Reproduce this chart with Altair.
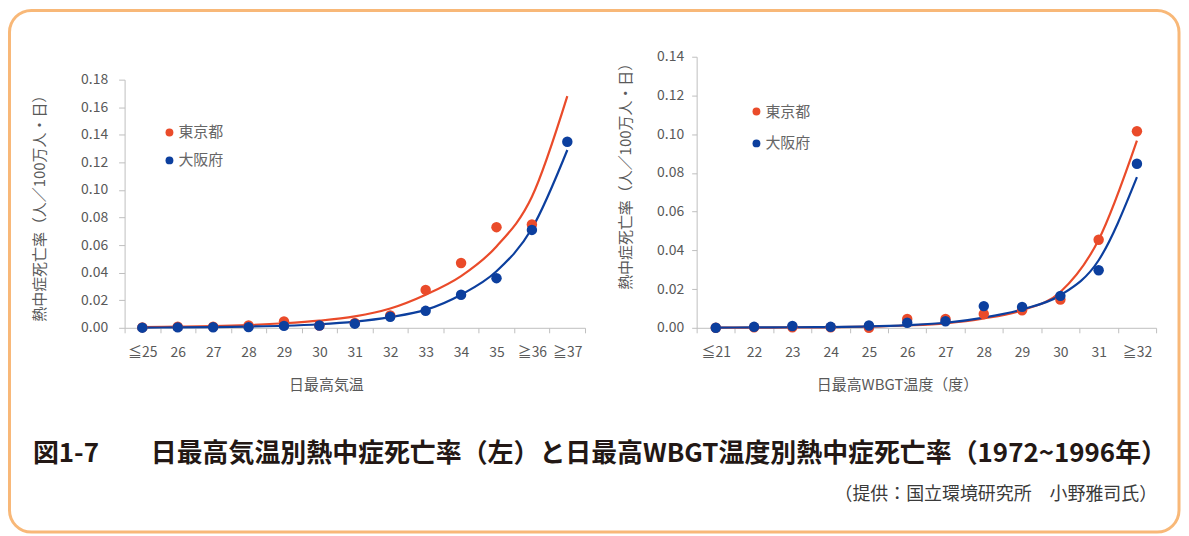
import altair as alt
import pandas as pd

# ---------------- data ----------------
series = ["東京都", "大阪府"]
colors = ["#ea4b2a", "#0c3f9e"]

left_cats = ["≦25", "26", "27", "28", "29", "30", "31", "32", "33", "34", "35", "≧36", "≧37"]
left_tokyo_pts = [0.0003, 0.0008, 0.0008, 0.0017, 0.0046, 0.0017, 0.0035, 0.0090, 0.0275, 0.0470, 0.0730, 0.0750]
left_osaka_pts = [0.0001, 0.0003, 0.0004, 0.0005, 0.0014, 0.0017, 0.0030, 0.0080, 0.0123, 0.0240, 0.0360, 0.0710, 0.1350]
left_tokyo_fit = [0.0005, 0.0008, 0.0012, 0.0020, 0.0033, 0.0052, 0.0083, 0.0140, 0.0240, 0.0375, 0.0590, 0.0950, 0.1680]
left_osaka_fit = [0.0002, 0.0003, 0.0005, 0.0009, 0.0015, 0.0026, 0.0045, 0.0078, 0.0130, 0.0240, 0.0410, 0.0720, 0.1290]
left_ticks = [0.00, 0.02, 0.04, 0.06, 0.08, 0.10, 0.12, 0.14, 0.16, 0.18]

right_cats = ["≦21", "22", "23", "24", "25", "26", "27", "28", "29", "30", "31", "≧32"]
right_tokyo_pts = [0.0000, 0.0003, 0.0003, 0.0003, 0.0000, 0.0046, 0.0046, 0.0071, 0.0091, 0.0146, 0.0455, 0.1015]
right_osaka_pts = [0.0000, 0.0005, 0.0009, 0.0005, 0.0012, 0.0026, 0.0034, 0.0112, 0.0108, 0.0165, 0.0297, 0.0847]
right_tokyo_fit = [0.0001, 0.0001, 0.0002, 0.0003, 0.0006, 0.0012, 0.0023, 0.0048, 0.0091, 0.0185, 0.0455, 0.0967]
right_osaka_fit = [0.0001, 0.0002, 0.0003, 0.0004, 0.0007, 0.0014, 0.0026, 0.0053, 0.0095, 0.0168, 0.0349, 0.0778]
right_ticks = [0.00, 0.02, 0.04, 0.06, 0.08, 0.10, 0.12, 0.14]

left_xtitle = "日最高気温"
right_xtitle = "日最高WBGT温度（度）"
ytitle = "熱中症死亡率（人／100万人・日）"
fig_title = "図1-7　　日最高気温別熱中症死亡率（左）と日最高WBGT温度別熱中症死亡率（1972~1996年）"
source_text = "（提供：国立環境研究所　小野雅司氏）"

FONT = "Noto Sans CJK JP"
AXIS_GREY = "#bfbfbf"
LABEL_GREY = "#595959"

one = pd.DataFrame({"k": [0]})


def long_rows(cats, values, name):
    return [{"cat": c, "series": name, "value": v, "idx": i}
            for i, (c, v) in enumerate(zip(cats, values))]


def legend_layers(lx, ly, row_step):
    layers = []
    for i, (name, col) in enumerate(zip(series, colors)):
        yy = ly + i * row_step
        layers.append(alt.Chart(one).mark_circle(size=62, opacity=1).encode(
            x=alt.value(lx), y=alt.value(yy), color=alt.value(col)))
        layers.append(alt.Chart(one).mark_text(align="left", baseline="middle", fontSize=15,
                                               font=FONT, color="#666666").encode(
            x=alt.value(lx + 9), y=alt.value(yy), text=alt.value(name)))
    return layers


def panel(cats, tokyo_pts, osaka_pts, tokyo_fit, osaka_fit, ticks, ymax, yrange,
          width, height, xtitle, xtitle_x, ytitle_x, ytitle_y, ytick, ylabpad,
          legend_x, legend_y, legend_step, extra_layers=()):
    pts = pd.DataFrame(long_rows(cats, tokyo_pts, series[0]) + long_rows(cats, osaka_pts, series[1]))
    fit = pd.DataFrame(long_rows(cats, tokyo_fit, series[0]) + long_rows(cats, osaka_fit, series[1]))

    xenc = alt.X("cat:N", sort=cats,
                 scale=alt.Scale(type="band", domain=cats, paddingInner=0, paddingOuter=0),
                 axis=alt.Axis(title=xtitle, tickBand="extent", labelAngle=0, labelFontSize=14,
                               labelColor=LABEL_GREY, labelFont=FONT, labelBaseline="middle",
                               labelPadding=20, tickSize=5, tickColor=AXIS_GREY,
                               domainColor=AXIS_GREY, titleFontSize=15, titleColor=LABEL_GREY,
                               titleFontWeight="normal", titleFont=FONT, titleX=xtitle_x, titleY=57,
                               titleAlign="center", titleBaseline="middle", grid=False))
    yenc = alt.Y("value:Q",
                 scale=alt.Scale(domain=[0, ymax], range=yrange, nice=False, zero=True),
                 axis=alt.Axis(values=ticks, format=".2f", title=ytitle, labelFontSize=14,
                               labelColor=LABEL_GREY, labelFont=FONT, labelPadding=ylabpad,
                               tickSize=ytick, tickColor=AXIS_GREY, domainColor=AXIS_GREY,
                               titleFontSize=15, titleColor=LABEL_GREY, titleFontWeight="normal",
                               titleFont=FONT, titleX=ytitle_x, titleY=ytitle_y, titleAngle=270,
                               titleAlign="center", titleBaseline="middle", grid=False))
    cscale = alt.Scale(domain=series, range=colors)

    lines = alt.Chart(fit).mark_line(interpolate="monotone", strokeWidth=2.2).encode(
        x=xenc, y=yenc,
        color=alt.Color("series:N", scale=cscale, legend=None),
        order=alt.Order("idx:Q"),
    )
    points = alt.Chart(pts).mark_circle(size=110, opacity=1).encode(
        x=xenc, y=yenc,
        color=alt.Color("series:N", scale=cscale, legend=None),
    )
    layers = list(extra_layers) + [lines, points] + legend_layers(legend_x, legend_y, legend_step)
    return alt.layer(*layers).properties(width=width, height=height)


border = alt.Chart(one).mark_rect(fillOpacity=0, stroke="#f8b878", strokeWidth=3, cornerRadius=22).encode(
    x=alt.value(-115.5), x2=alt.value(1058), y=alt.value(-46.5), y2=alt.value(477)
)
title_mark = alt.Chart(one).mark_text(align="left", baseline="middle", fontSize=26, fontWeight="bold",
                                      font=FONT, color="#231815").encode(
    x=alt.value(-92), y=alt.value(399), text=alt.value(fig_title)
)
source_mark = alt.Chart(one).mark_text(align="right", baseline="middle", fontSize=18,
                                       font=FONT, color="#3a3a3a").encode(
    x=alt.value(1036), y=alt.value(440), text=alt.value(source_text)
)

left = panel(left_cats, left_tokyo_pts, left_osaka_pts, left_tokyo_fit, left_osaka_fit,
             left_ticks, 0.18, [272, 23], 462, 272, left_xtitle, 202, -85, 148, 6, 11,
             45, 76, 28, extra_layers=(border, title_mark, source_mark))
right = panel(right_cats, right_tokyo_pts, right_osaka_pts, right_tokyo_fit, right_osaka_fit,
              right_ticks, 0.14, [272, 0], 461, 272, right_xtitle, 201, -71, 116, 5, 8,
              60, 55, 32)

chart = alt.hconcat(left, right, spacing=112, bounds="flush").resolve_scale(
    color="independent"
).properties(
    padding={"left": 0, "top": 0, "right": 0, "bottom": 0}
).configure(font=FONT, background="white").configure_view(strokeWidth=0)

chart.save("out.html", embed_options={"renderer": "svg", "actions": False})
